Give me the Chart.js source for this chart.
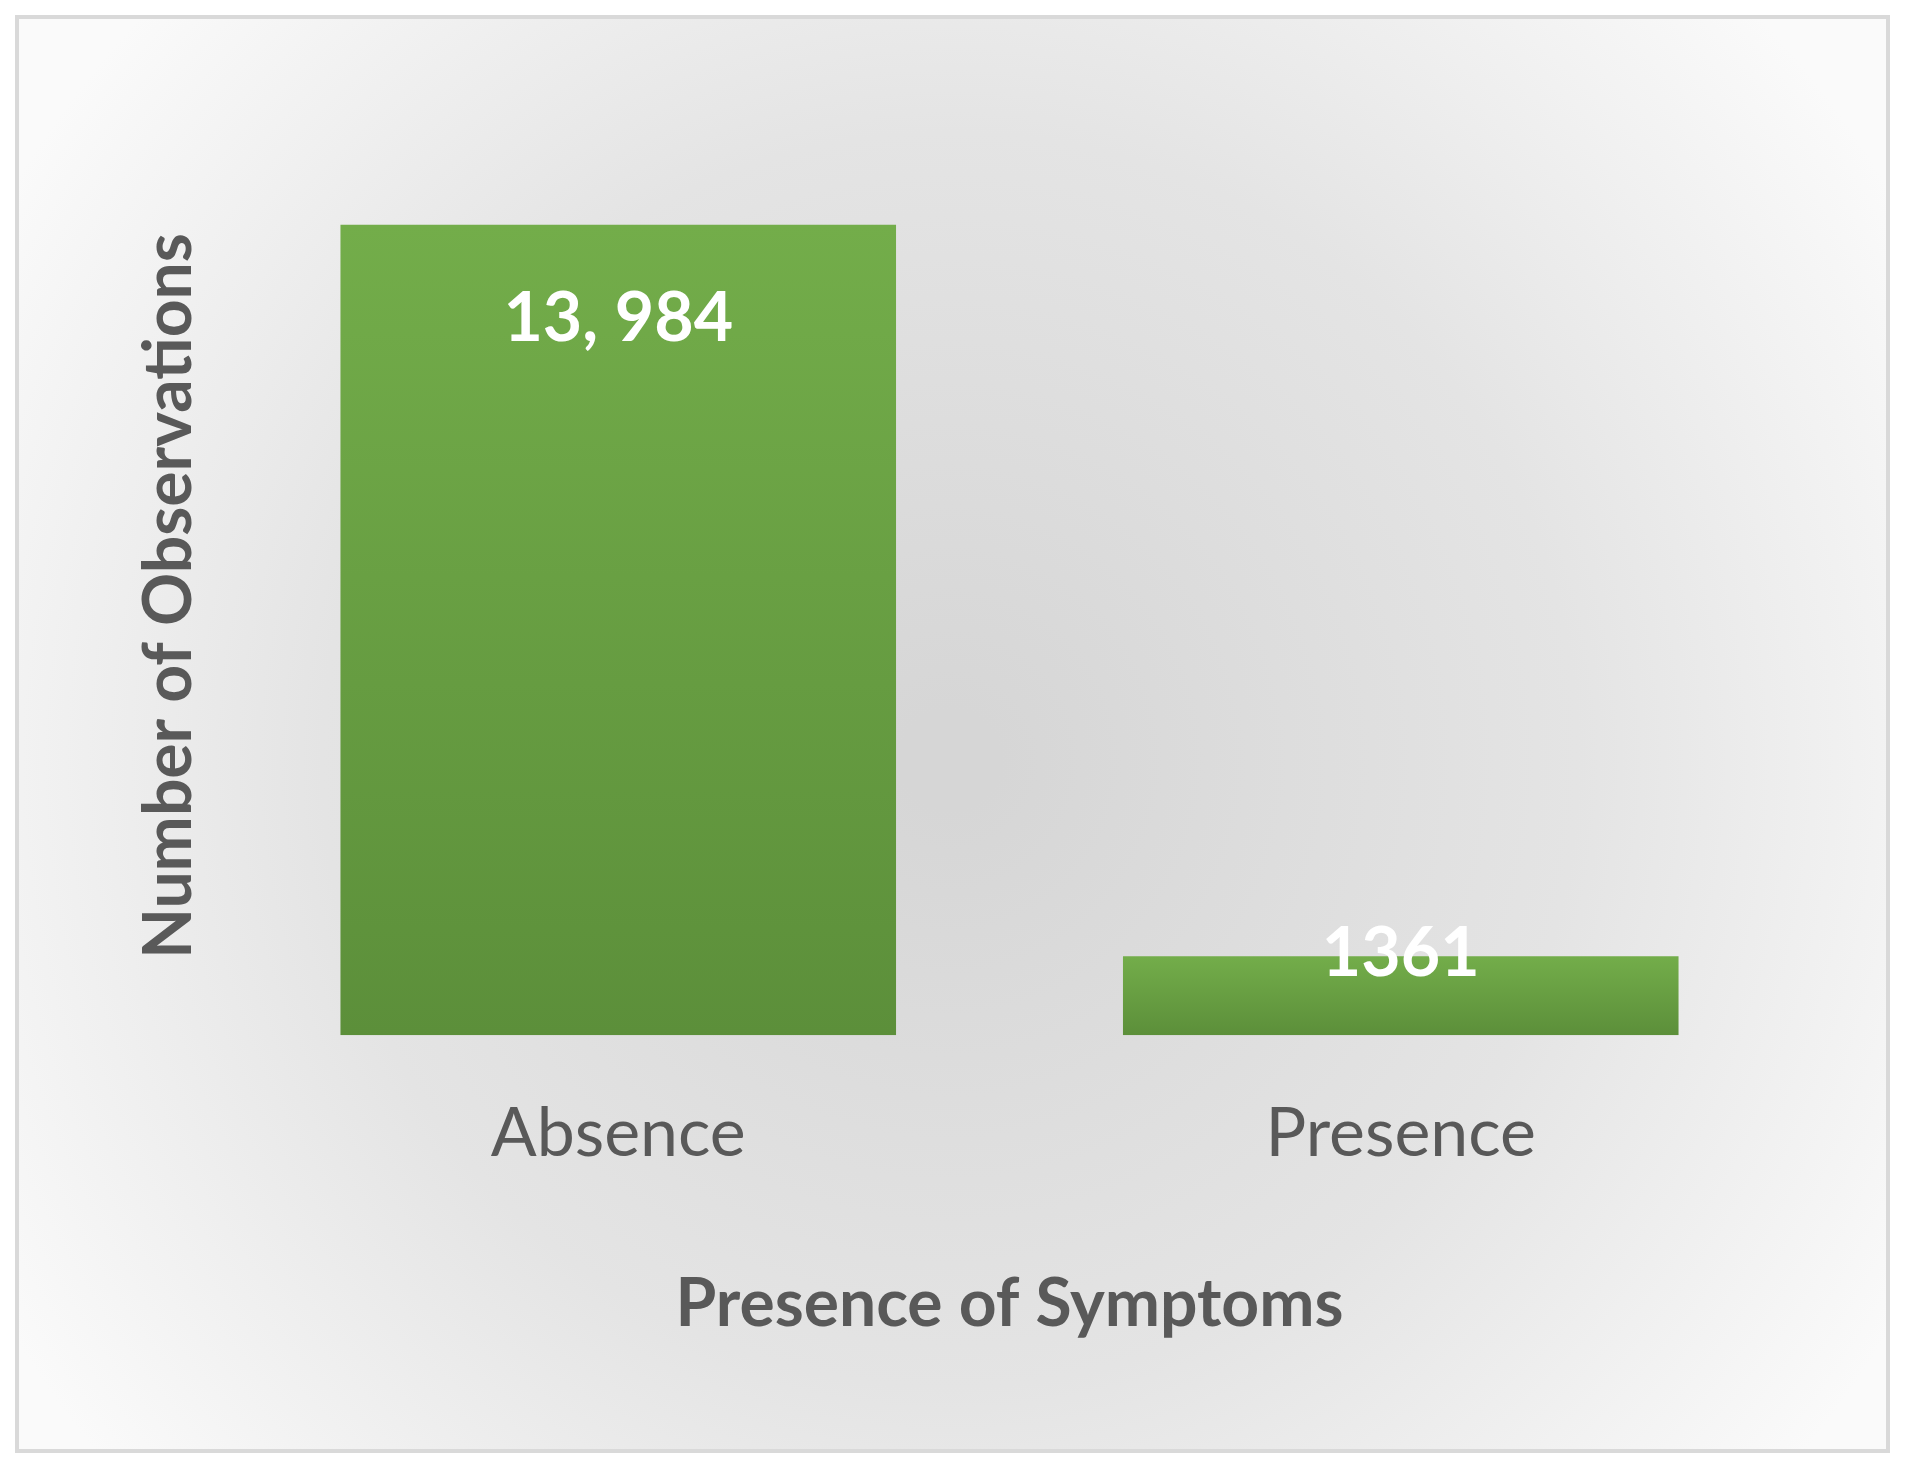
<!DOCTYPE html>
<html>
<head>
<meta charset="utf-8">
<script src="https://cdn.jsdelivr.net/npm/chart.js@4/dist/chart.umd.min.js"></script>
<style>
  body { margin: 0; background: #fff; }
  canvas { display: block; }
</style>
</head>
<body>
<canvas id="bar-chart" width="1905" height="1465"></canvas>
<script>
const CHART = document.getElementById("bar-chart");

const categories = ['Absence', 'Presence'];
const counts = [13984, 1361];
const countLabels = ['13, 984', '1361'];
const xTitle = 'Presence of Symptoms';
const yTitle = 'Number of Observations';

const FONT = 'Lato, "Open Sans", sans-serif';
const TEXT = '#595959';

// grey gradient background + frame, y title, value labels
const decor = {
  id: 'decor',
  beforeDraw(chart) {
    const c = chart.ctx;
    c.save();
    let g = c.createRadialGradient(950, 760, 50, 950, 760, 1100);
    g.addColorStop(0, '#d6d6d6');
    g.addColorStop(0.55, '#e4e4e4');
    g.addColorStop(1, '#fafafa');
    c.fillStyle = g;
    c.fillRect(17, 17, 1871, 1434);
    c.strokeStyle = '#d9d9d9';
    c.lineWidth = 4;
    c.strokeRect(17, 17, 1871, 1434);

    c.translate(170, 596);
    c.rotate(-Math.PI / 2);
    c.fillStyle = TEXT;
    c.font = 'bold 66px ' + FONT;
    c.textAlign = 'center';
    c.textBaseline = 'middle';
    c.fillText(yTitle, 0, 0);
    c.restore();
  },
  afterDatasetsDraw(chart) {
    const c = chart.ctx;
    c.save();
    c.fillStyle = '#ffffff';
    c.font = 'bold 68px ' + FONT;
    c.textAlign = 'center';
    c.textBaseline = 'middle';
    chart.getDatasetMeta(0).data.forEach((bar, i) => {
      const h = bar.base - bar.y;
      const y = h > 200 ? bar.y + 94 : bar.y - 2;
      c.fillText(countLabels[i], bar.x, y);
    });
    c.restore();
  }
};

new Chart(CHART, {
  type: 'bar',
  data: {
    labels: categories,
    datasets: [{
      data: counts,
      backgroundColor(ctx) {
        const chart = ctx.chart;
        const area = chart.chartArea;
        const ys = chart.scales.y;
        if (!area || !ys || ctx.raw == null) return '#6aa343';
        const top = ys.getPixelForValue(ctx.raw);
        const bottom = ys.getPixelForValue(0);
        if (!isFinite(top) || !isFinite(bottom) || top === bottom) return '#6aa343';
        const g = chart.ctx.createLinearGradient(0, top, 0, bottom);
        g.addColorStop(0, '#73ad4a');
        g.addColorStop(1, '#5c8f3a');
        return g;
      },
      barPercentage: 0.71,
      categoryPercentage: 1.0
    }]
  },
  options: {
    responsive: false,
    devicePixelRatio: 1,
    animation: false,
    layout: { padding: { left: 227, right: 113, top: 108, bottom: 117 } },
    plugins: { legend: { display: false }, tooltip: { enabled: false } },
    scales: {
      x: {
        grid: { display: false },
        border: { display: false },
        ticks: { color: TEXT, font: { family: FONT, size: 68 }, padding: 50 },
        title: {
          display: true, text: xTitle, color: TEXT,
          font: { family: FONT, size: 66, weight: 'bold' },
          padding: { top: 40, bottom: 4 }
        }
      },
      y: { display: false, min: 0, max: 16000 }
    }
  },
  plugins: [decor]
});
</script>
</body>
</html>
